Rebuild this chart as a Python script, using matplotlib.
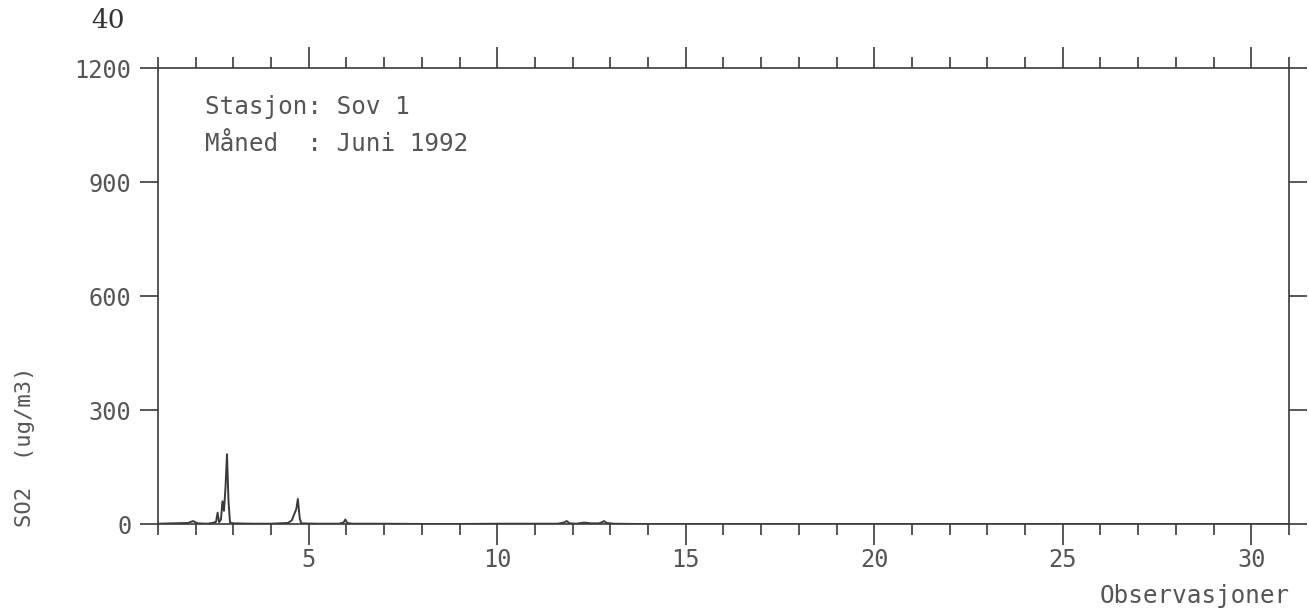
import matplotlib
matplotlib.use('Agg')
import matplotlib.pyplot as plt

# hourly SO2 observations, Sov 1, June 1992 (x = day of month)
obs_day = [1.0, 1.4, 1.8, 1.93, 2.05, 2.3, 2.45, 2.54, 2.58, 2.62, 2.67, 2.71, 2.75, 2.79, 2.83,
           2.87, 2.91, 3.0, 3.5, 4.0, 4.45, 4.55, 4.61, 4.67, 4.71, 4.76, 4.8, 5.2, 5.8, 5.92,
           5.97, 6.02, 6.15, 7.0, 8.5, 10.0, 11.6, 11.76, 11.84, 11.92, 12.1, 12.3, 12.5, 12.7,
           12.78, 12.83, 12.9, 13.1, 14.0, 18.0, 22.0, 26.0, 31.0]
obs_so2 = [1, 2, 3, 8, 2, 1, 3, 6, 30, 5, 12, 60, 35, 95, 184,
           60, 4, 2, 1, 1, 3, 10, 25, 40, 66, 15, 2, 1, 1, 4,
           12, 3, 1, 1, 0, 1, 1, 4, 8, 2, 1, 4, 2, 2,
           5, 8, 3, 1, 0, 0, 0, 0, 0]

x_major = [5, 10, 15, 20, 25, 30]
x_minor = list(range(1, 32))
y_ticks = [0, 300, 600, 900, 1200]

ink = '#3a3a3a'
txt = '#555555'
mono = 'DejaVu Sans Mono'

fig = plt.figure(figsize=(13.09, 6.08), dpi=100)
ax = fig.add_axes([0.1207, 0.138, 0.8640, 0.750])

ax.plot(obs_day, obs_so2, color=ink, lw=1.4)

ax.set_xlim(1, 31)
ax.set_ylim(0, 1200)
ax.set_xticks(x_major)
ax.set_xticks(x_minor, minor=True)
ax.set_yticks(y_ticks)

ax.tick_params(axis='both', which='both', direction='out', color=ink, width=1.2,
               labelcolor=txt, labelfontfamily=mono, labelsize=17)
ax.tick_params(axis='x', which='major', length=15, top=True, pad=2)
ax.tick_params(axis='x', which='minor', length=8, top=True)
ax.tick_params(axis='y', which='major', length=13, right=True, pad=6)
for s in ax.spines.values():
    s.set_color(ink)
    s.set_linewidth(1.2)

ax.text(0.042, 0.915, 'Stasjon: Sov 1', transform=ax.transAxes, family=mono,
        fontsize=17.5, color=txt, va='center')
ax.text(0.042, 0.833, 'Måned  : Juni 1992', transform=ax.transAxes, family=mono,
        fontsize=17.5, color=txt, va='center')

fig.text(1290 / 1309, 1 - 603 / 608, 'Observasjoner', family=mono, fontsize=17.5,
         color=txt, ha='right', va='baseline')
fig.text(25 / 1309, 1 - 447 / 608, 'SO2  (ug/m3)', family=mono, fontsize=16,
         color=txt, ha='center', va='center', rotation=90)

# page number of the scanned report
fig.text(108 / 1309, 1 - 20 / 608, '40', family='DejaVu Serif', fontsize=19,
         color='#333333', ha='center', va='center')

plt.savefig('out.png', dpi=100)
plt.close()
